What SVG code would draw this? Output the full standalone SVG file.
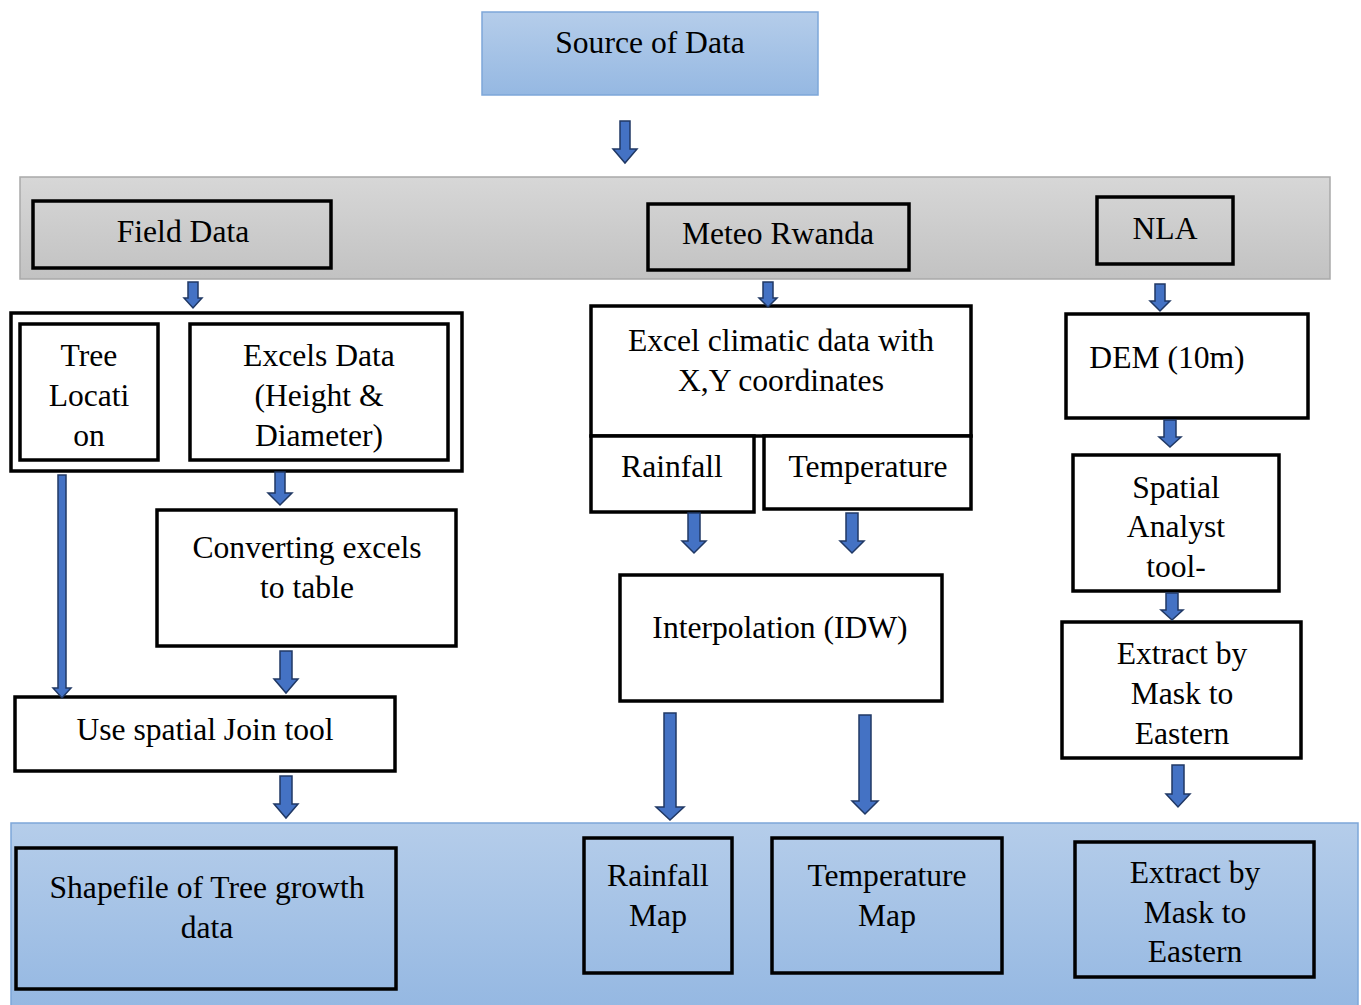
<svg xmlns="http://www.w3.org/2000/svg" width="1361" height="1005" viewBox="0 0 1361 1005">
<defs>
<linearGradient id="blue" x1="0" y1="0" x2="0" y2="1"><stop offset="0" stop-color="#b5cdea"/><stop offset="1" stop-color="#95b8e2"/></linearGradient>
<linearGradient id="gray" x1="0" y1="0" x2="0" y2="1"><stop offset="0" stop-color="#d7d7d7"/><stop offset="1" stop-color="#c2c2c2"/></linearGradient>
<style>
text{font-family:"Liberation Serif","Times New Roman",serif;font-size:31.6px;fill:#000;text-anchor:middle}
.b{fill:#fff;stroke:#000;stroke-width:3.5}
.t{fill:none;stroke:#000;stroke-width:3.5}
.band{stroke:#7da7d9;stroke-width:1.5}
.arr{fill:#4472c4;stroke:#203864;stroke-width:1.5;stroke-linejoin:miter}
</style>
</defs>
<rect x="20" y="177" width="1310" height="102" fill="url(#gray)" stroke="#a9a9a9" stroke-width="1.5"/>
<rect x="11" y="823" width="1347" height="184" fill="url(#blue)" class="band"/>
<g id="source"><rect x="482" y="12" width="336" height="83" fill="url(#blue)" class="band"/><text x="650" y="53">Source of Data</text></g>
<g id="field"><rect x="33" y="201" width="298" height="67" class="t"/><text x="183" y="242">Field Data</text></g>
<g id="meteo"><rect x="648" y="204" width="261" height="66" class="t"/><text x="778" y="244">Meteo Rwanda</text></g>
<g id="nla"><rect x="1097" y="197" width="136" height="67" class="t"/><text x="1165" y="239">NLA</text></g>
<g id="fieldgroup"><rect x="11" y="313" width="451" height="158" class="b"/></g>
<g id="tree"><rect x="20" y="324" width="138" height="136" class="b"/><text x="89" y="366">Tree</text><text x="89" y="406">Locati</text><text x="89" y="446">on</text></g>
<g id="excels"><rect x="190" y="324" width="258" height="136" class="b"/><text x="319" y="366">Excels Data</text><text x="319" y="406">(Height &amp;</text><text x="319" y="446">Diameter)</text></g>
<g id="convert"><rect x="157" y="510" width="299" height="136" class="b"/><text x="307" y="558">Converting excels</text><text x="307" y="598">to table</text></g>
<g id="join"><rect x="15" y="697" width="380" height="74" class="b"/><text x="205" y="740">Use spatial Join tool</text></g>
<g id="shapefile"><rect x="16" y="848" width="380" height="141" class="t"/><text x="207" y="898">Shapefile of Tree growth</text><text x="207" y="938">data</text></g>
<g id="climatic"><rect x="591" y="306" width="380" height="130" class="b"/><text x="781" y="351">Excel climatic data with</text><text x="781" y="391">X,Y coordinates</text></g>
<g id="rainfall"><rect x="591" y="436" width="163" height="76" class="b"/><text x="672" y="477">Rainfall</text></g>
<g id="temperature"><rect x="764" y="436" width="207" height="73" class="b"/><text x="868" y="477">Temperature</text></g>
<g id="idw"><rect x="620" y="575" width="322" height="126" class="b"/><text x="780" y="638">Interpolation (IDW)</text></g>
<g id="rainmap"><rect x="584" y="838" width="148" height="135" class="t"/><text x="658" y="886">Rainfall</text><text x="658" y="926">Map</text></g>
<g id="tempmap"><rect x="772" y="838" width="230" height="135" class="t"/><text x="887" y="886">Temperature</text><text x="887" y="926">Map</text></g>
<g id="dem"><rect x="1066" y="314" width="242" height="104" class="b"/><text x="1167" y="368">DEM (10m)</text></g>
<g id="spatial"><rect x="1073" y="455" width="206" height="136" class="b"/><text x="1176" y="498">Spatial</text><text x="1176" y="537">Analyst</text><text x="1176" y="577">tool-</text></g>
<g id="extract1"><rect x="1062" y="622" width="239" height="136" class="b"/><text x="1182" y="664">Extract by</text><text x="1182" y="704">Mask to</text><text x="1182" y="744">Eastern</text></g>
<g id="extract2"><rect x="1075" y="842" width="239" height="135" class="t"/><text x="1195" y="883">Extract by</text><text x="1195" y="923">Mask to</text><text x="1195" y="962">Eastern</text></g>
<g id="connectors">
<polygon class="arr" points="620,121 630,121 630,149 637,149 625,163 613,149 620,149"/>
<polygon class="arr" points="188,282 198,282 198,298 202,298 193,308 184,298 188,298"/>
<polygon class="arr" points="763,282 773,282 773,298 777,298 768,307 759,298 763,298"/>
<polygon class="arr" points="1155,284 1165,284 1165,301 1170,301 1160,311 1150,301 1155,301"/>
<polygon class="arr" points="58,475 66,475 66,688 71,688 62,698 53,688 58,688"/>
<polygon class="arr" points="275,472 285,472 285,493 292,493 280,505 268,493 275,493"/>
<polygon class="arr" points="280,651 292,651 292,679 298,679 286,693 274,679 280,679"/>
<polygon class="arr" points="280,776 292,776 292,804 298,804 286,818 274,804 280,804"/>
<polygon class="arr" points="688,513 700,513 700,541 706,541 694,553 682,541 688,541"/>
<polygon class="arr" points="846,513 858,513 858,541 864,541 852,553 840,541 846,541"/>
<polygon class="arr" points="664,713 676,713 676,807 684,807 670,820 656,807 664,807"/>
<polygon class="arr" points="859,715 871,715 871,801 878,801 865,814 852,801 859,801"/>
<polygon class="arr" points="1164,420 1176,420 1176,437 1181,437 1170,447 1159,437 1164,437"/>
<polygon class="arr" points="1166,593 1178,593 1178,610 1183,610 1172,620 1161,610 1166,610"/>
<polygon class="arr" points="1172,765 1184,765 1184,794 1190,794 1178,807 1166,794 1172,794"/>
</g>
</svg>
